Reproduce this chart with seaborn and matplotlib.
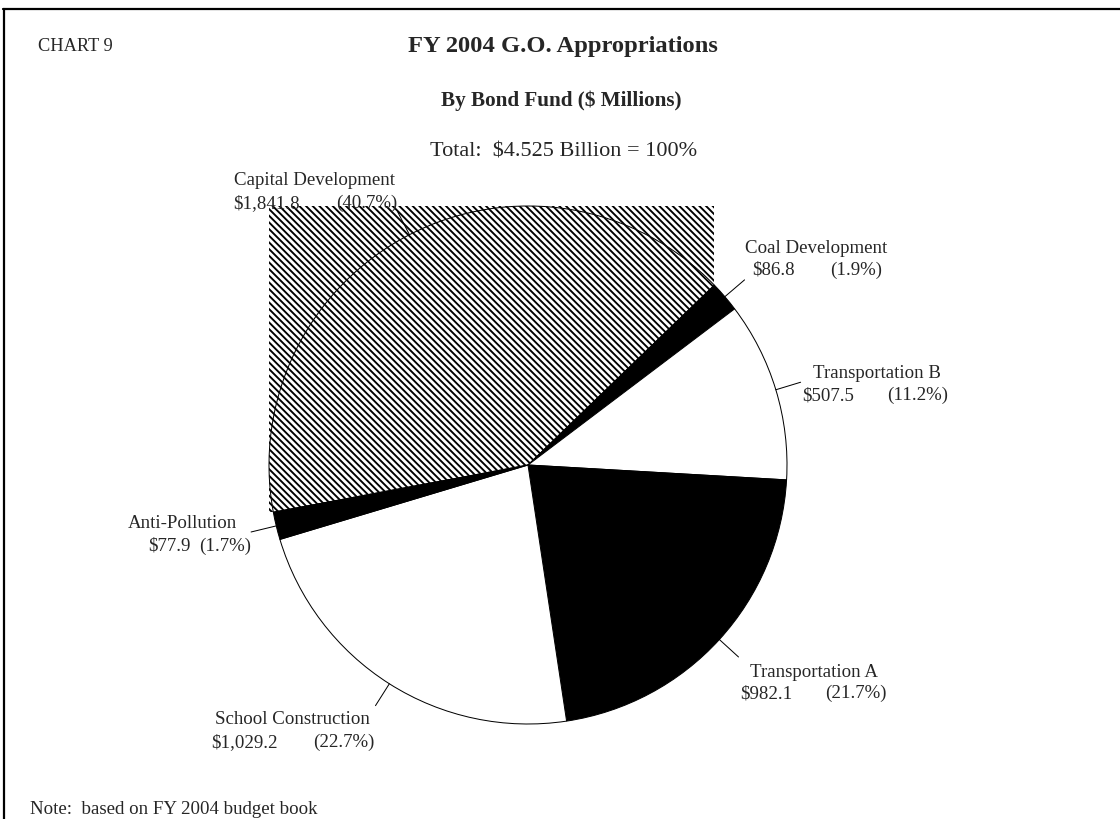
import matplotlib
matplotlib.use("Agg")
import matplotlib.pyplot as plt
from matplotlib.patches import Rectangle
import numpy as np
import seaborn as sns

# Bond fund appropriations, $ millions (clockwise from Capital Development)
funds = ["Capital Development", "Coal Development", "Transportation B",
         "Transportation A", "School Construction", "Anti-Pollution"]
amounts = [1841.8, 86.8, 507.5, 982.1, 1029.2, 77.9]
fills = ["white", "black", "white", "black", "white", "black"]

title = "FY 2004 G.O. Appropriations"
subtitle = "By Bond Fund ($ Millions)"
chart_tag = "CHART 9"
note = "Note:  based on FY 2004 budget book"

sns.set_theme(style="white")
plt.rcParams["font.family"] = ["Liberation Serif", "DejaVu Serif"]
plt.rcParams["hatch.linewidth"] = 1.7

W, H = 1120, 819
DPI = 80
fig = plt.figure(figsize=(W / DPI, H / DPI), dpi=DPI, facecolor="white")
ax = fig.add_axes([0, 0, 1, 1])


def Y(y):
    # canvas rows are counted from the top
    return H - y


# dense back-diagonal hatch (four backslashes)
HATCH = chr(92) * 4

cx, cy, R = 528, Y(465), 259
total = sum(amounts)
pcts = [a / total * 100 for a in amounts]

wedges, _ = ax.pie(amounts, colors=fills, startangle=190.5, counterclock=False,
                   center=(cx, cy), radius=R, frame=False,
                   wedgeprops=dict(edgecolor="black", linewidth=0.9))
wedges[0].set_hatch(HATCH)

# hatched fill spilling over the bounding box of the largest slice
ext = wedges[0].get_path().get_extents()
ax.add_patch(Rectangle((ext.x0, ext.y0), ext.width, ext.height,
                       facecolor="white", edgecolor="black", linewidth=0,
                       hatch=HATCH, zorder=0.5))

ax.set_xlim(0, W)
ax.set_ylim(0, H)
ax.set_aspect("equal")
ax.axis("off")

# leader lines from the rim at each slice's mid-angle
for w in wedges:
    mid = np.deg2rad((w.theta1 + w.theta2) / 2)
    ax.plot([cx + R * np.cos(mid), cx + 1.1 * R * np.cos(mid)],
            [cy + R * np.sin(mid), cy + 1.1 * R * np.sin(mid)],
            color="black", lw=0.9)

fs = 17
# name line: (x, baseline, ha); value line: (left x of amount, right x of pct, baseline)
name_pos = [(314, 185, "center"), (816.5, 253, "center"), (876.5, 378, "center"),
            (813.5, 677, "center"), (292, 724, "center"), (237, 528, "right")]
value_pos = [(233, 397, 208), (752, 882, 275), (802, 948, 400),
             (740, 887, 698), (211, 374, 747), (148, 251, 551)]

for name, amt, p, (nx, ny, ha), (vx0, vx1, vy) in zip(funds, amounts, pcts,
                                                      name_pos, value_pos):
    ax.text(nx, Y(ny), name, ha=ha, va="baseline", fontsize=fs)
    ax.text(vx0, Y(vy), f"${amt:,.1f}", ha="left", va="baseline", fontsize=fs)
    ax.text(vx1, Y(vy), f"({p:.1f}%)", ha="right", va="baseline", fontsize=fs)

ax.text(38, Y(51), chart_tag, ha="left", va="baseline", fontsize=16.5)
ax.text(563, Y(52), title, ha="center", va="baseline", fontsize=22,
        fontweight="bold")
ax.text(561.5, Y(106), subtitle, ha="center", va="baseline", fontsize=19,
        fontweight="bold")
ax.text(563.5, Y(157), f"Total:  ${total / 1000:.3f} Billion = 100%",
        ha="center", va="baseline", fontsize=20)
ax.text(30, Y(814), note, ha="left", va="baseline", fontsize=fs)

# page frame (top and left rules)
ax.plot([3, W], [Y(8.5), Y(8.5)], color="black", lw=2, clip_on=False)
ax.plot([4, 4], [Y(8.5), 0], color="black", lw=2, clip_on=False)

fig.savefig("out.png", dpi=DPI, facecolor="white")
